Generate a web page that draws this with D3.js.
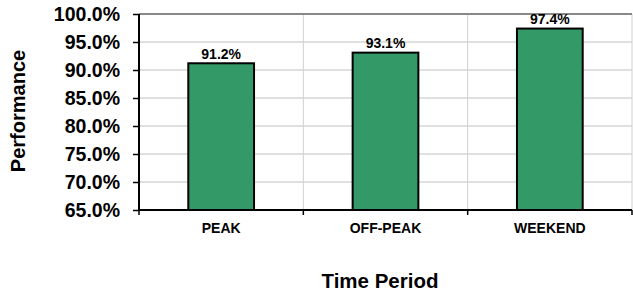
<!DOCTYPE html>
<html>
<head>
<meta charset="utf-8">
<script src="https://d3js.org/d3.v7.min.js"></script>
<style>
  body { margin: 0; background: #fff; }
  text { font-family: "Liberation Sans", Arial, sans-serif; font-weight: bold; fill: #000; }
  .ytick { font-size: 19.5px; }
</style>
</head>
<body>
<svg id="chart" width="633" height="293"></svg>
<script>
// data
var periods = ['PEAK', 'OFF-PEAK', 'WEEKEND'];
var performance = [91.2, 93.1, 97.4];
var yTicks = [65, 70, 75, 80, 85, 90, 95, 100];

var margin = {top: 14, right: 1, bottom: 83, left: 139},
    width = 633 - margin.left - margin.right,
    height = 293 - margin.top - margin.bottom;

var svg = d3.select('#chart');
var g = svg.append('g').attr('transform', 'translate(' + margin.left + ',' + margin.top + ')');

var x = d3.scaleBand().domain(periods).range([0, width]);
var y = d3.scaleLinear().domain([65, 100]).range([height, 0]);

// horizontal gridlines
g.selectAll('.hgrid').data(yTicks.slice(1))
  .enter().append('line')
  .attr('x1', 0).attr('x2', width)
  .attr('y1', d => y(d)).attr('y2', d => y(d))
  .attr('stroke', '#c0c0c0').attr('stroke-width', 1);

// vertical gridlines at category boundaries
g.selectAll('.vgrid').data(periods.slice(1))
  .enter().append('line')
  .attr('x1', d => x(d)).attr('x2', d => x(d))
  .attr('y1', 0).attr('y2', height)
  .attr('stroke', '#d0d0d0').attr('stroke-width', 1);

// right border and top line
g.append('line').attr('x1', width).attr('x2', width).attr('y1', 0).attr('y2', height)
  .attr('stroke', '#d0d0d0');
g.append('line').attr('x1', 0).attr('x2', width).attr('y1', y(100)).attr('y2', y(100))
  .attr('stroke', '#888').attr('stroke-width', 2);

// bars
var barW = x.bandwidth() * 0.4;
g.selectAll('.bar').data(performance)
  .enter().append('rect')
  .attr('x', (d, i) => x(periods[i]) + (x.bandwidth() - barW) / 2)
  .attr('y', d => y(d))
  .attr('width', barW)
  .attr('height', d => height - y(d))
  .attr('fill', '#339966')
  .attr('stroke', '#000')
  .attr('stroke-width', 2);

// value labels
g.selectAll('.lbl').data(performance)
  .enter().append('text')
  .attr('x', (d, i) => x(periods[i]) + x.bandwidth() / 2)
  .attr('y', d => y(d) - 4.5)
  .attr('text-anchor', 'middle')
  .style('font-size', '14px')
  .text(d => d.toFixed(1) + '%');

// y axis
var yAxis = g.append('g')
  .call(d3.axisLeft(y).tickValues(yTicks).tickSize(6).tickPadding(13)
    .tickFormat(d => d.toFixed(1) + '%'));
yAxis.attr('font-size', null).attr('font-family', null);
yAxis.select('.domain').attr('stroke', '#000').attr('stroke-width', 2).attr('d', 'M0,0V' + height);
yAxis.selectAll('.tick line').attr('stroke', '#000').attr('stroke-width', 1.5);
yAxis.selectAll('.tick text').attr('class', 'ytick').attr('fill', '#000').attr('dy', '0.34em');

// x axis
var xAxis = g.append('g').attr('transform', 'translate(0,' + height + ')');
xAxis.append('line').attr('x1', 0).attr('x2', width).attr('y1', 0).attr('y2', 0)
  .attr('stroke', '#000').attr('stroke-width', 2);
xAxis.selectAll('.xt').data(periods.concat(['end']))
  .enter().append('line')
  .attr('x1', (d, i) => i * x.step()).attr('x2', (d, i) => i * x.step())
  .attr('y1', 0).attr('y2', 5)
  .attr('stroke', '#000').attr('stroke-width', 1.5);
xAxis.selectAll('.xl').data(periods)
  .enter().append('text')
  .attr('x', d => x(d) + x.bandwidth() / 2)
  .attr('y', 23)
  .attr('text-anchor', 'middle')
  .style('font-size', '14px')
  .text(d => d);

// axis titles
svg.append('text')
  .attr('transform', 'translate(25,111) rotate(-90)')
  .attr('text-anchor', 'middle')
  .style('font-size', '20px')
  .text('Performance');

svg.append('text')
  .attr('x', 380).attr('y', 288)
  .attr('text-anchor', 'middle')
  .style('font-size', '20.5px')
  .text('Time Period');
</script>
</body>
</html>
